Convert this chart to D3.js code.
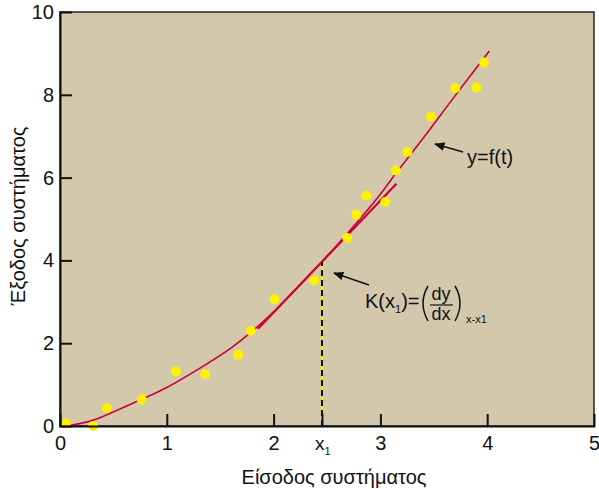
<!DOCTYPE html>
<html>
<head>
<meta charset="utf-8">
<script src="https://cdn.jsdelivr.net/npm/d3@7"></script>
<style>
  body { margin: 0; background: #fff; }
  text { font-family: "Liberation Sans", Arial, sans-serif; fill: #111; }
</style>
</head>
<body>
<div id="chart"></div>
<script>
// measured points (yellow)
const pointX = [0.056, 0.31, 0.44, 0.765, 1.086, 1.36, 1.67, 1.786, 2.01, 2.38, 2.69, 2.774, 2.868, 3.046, 3.143, 3.252, 3.474, 3.70, 3.90, 3.97];
const pointY = [0.06, 0.0, 0.43, 0.64, 1.32, 1.25, 1.72, 2.3, 3.06, 3.52, 4.54, 5.10, 5.57, 5.41, 6.17, 6.62, 7.47, 8.16, 8.18, 8.78];

// fitted curve y=f(t)
const curveX = [0.06, 0.3, 0.5, 0.77, 1.0, 1.3, 1.6, 1.8, 2.0, 2.2, 2.45, 2.7, 3.0, 3.15, 3.4, 3.7, 4.02];
const curveY = [0.0, 0.13, 0.34, 0.65, 0.93, 1.38, 1.88, 2.29, 2.76, 3.28, 3.96, 4.68, 5.6, 6.12, 6.95, 7.98, 9.06];

// tangent at x1
const x1 = 2.453;
const y1 = 3.96;
const tangentX = [1.854, 3.15];
const tangentY = [2.35, 5.85];

const xTicks = [0, 1, 2, x1, 3, 4, 5];
const yTicks = [0, 2, 4, 6, 8, 10];

const width = 599, height = 489;
const margin = {top: 12, right: 5, bottom: 63, left: 60};

const svg = d3.select("#chart").append("svg")
    .attr("width", width)
    .attr("height", height);

const x = d3.scaleLinear().domain([0, 5]).range([margin.left, width - margin.right]);
const y = d3.scaleLinear().domain([0, 10]).range([height - margin.bottom, margin.top]);

// plot background + frame
svg.append("rect")
    .attr("x", x(0)).attr("y", y(10))
    .attr("width", x(5) - x(0)).attr("height", y(0) - y(10))
    .attr("fill", "#d3c8ac")
    .attr("stroke", "#222")
    .attr("stroke-width", 1.5);

// curve
const line = d3.line().x(d => x(d[0])).y(d => y(d[1])).curve(d3.curveCatmullRom);
svg.append("path")
    .datum(curveX.map((v, i) => [v, curveY[i]]))
    .attr("d", line)
    .attr("fill", "none")
    .attr("stroke", "#cc0033")
    .attr("stroke-width", 1.6);

// tangent
svg.append("path")
    .datum(tangentX.map((v, i) => [v, tangentY[i]]))
    .attr("d", d3.line().x(d => x(d[0])).y(d => y(d[1])))
    .attr("stroke", "#cc0033")
    .attr("stroke-width", 2.2);

// dashed drop line at x1
svg.append("line")
    .attr("x1", x(x1)).attr("x2", x(x1))
    .attr("y1", y(0)).attr("y2", y(y1))
    .attr("stroke", "#ffee00").attr("stroke-width", 2);
svg.append("line")
    .attr("x1", x(x1)).attr("x2", x(x1))
    .attr("y1", y(0)).attr("y2", y(y1))
    .attr("stroke", "#111").attr("stroke-width", 2)
    .attr("stroke-dasharray", "6,4");

// points
svg.selectAll("circle.pt")
    .data(pointX.map((v, i) => [v, pointY[i]]))
    .join("circle")
    .attr("class", "pt")
    .attr("cx", d => x(d[0]))
    .attr("cy", d => y(d[1]))
    .attr("r", 5)
    .attr("fill", "#fff200");

// axes
const yAxis = svg.append("g")
    .attr("transform", `translate(${x(0)},0)`)
    .call(d3.axisLeft(y).tickValues(yTicks).tickSize(-12).tickPadding(20));
const xAxis = svg.append("g")
    .attr("transform", `translate(0,${y(0)})`)
    .call(d3.axisBottom(x).tickValues(xTicks).tickSize(-12).tickPadding(20)
        .tickFormat(d => d === x1 ? "" : d));

[xAxis, yAxis].forEach(g => {
    g.select(".domain").attr("stroke", "#111").attr("stroke-width", 2);
    g.selectAll(".tick line").attr("stroke", "#111").attr("stroke-width", 2);
    g.selectAll(".tick text").style("font-size", "20px").attr("fill", "#111");
});
yAxis.selectAll(".tick text").attr("x", -6);
xAxis.selectAll(".tick text").attr("y", 10);
xAxis.selectAll(".tick").filter(d => d === 0 || d === 5).select("line").remove();
yAxis.selectAll(".tick").filter(d => d === 0 || d === 10).select("line").remove();

// x1 tick label
const xl = svg.append("text")
    .attr("x", x(x1) - 7).attr("y", y(0) + 24)
    .style("font-size", "19px");
xl.append("tspan").text("x");
xl.append("tspan").attr("dy", 5).style("font-size", "11px").text("1");

// axis titles
svg.append("text")
    .attr("x", 334).attr("y", 484)
    .attr("text-anchor", "middle")
    .style("font-size", "20px")
    .text("Είσοδος συστήματος");
svg.append("text")
    .attr("transform", `translate(25,${(y(0) + y(10)) / 2 - 3}) rotate(-90)`)
    .attr("text-anchor", "middle")
    .style("font-size", "20px")
    .text("Έξοδος συστήματος");

// arrow marker
svg.append("defs").append("marker")
    .attr("id", "arr")
    .attr("viewBox", "0 0 10 10")
    .attr("refX", 9).attr("refY", 5)
    .attr("markerWidth", 7).attr("markerHeight", 7)
    .attr("orient", "auto")
    .append("path").attr("d", "M0,1 L10,5 L0,9 Z").attr("fill", "#111");

// y=f(t) annotation
svg.append("line")
    .attr("x1", 463).attr("y1", 152).attr("x2", 435).attr("y2", 144)
    .attr("stroke", "#111").attr("stroke-width", 1.5)
    .attr("marker-end", "url(#arr)");
svg.append("text")
    .attr("x", 467).attr("y", 164)
    .style("font-size", "20px")
    .text("y=f(t)");

// K(x1) annotation
svg.append("line")
    .attr("x1", 369).attr("y1", 285).attr("x2", 334).attr("y2", 273)
    .attr("stroke", "#111").attr("stroke-width", 1.5)
    .attr("marker-end", "url(#arr)");
const k = svg.append("text")
    .attr("x", 365).attr("y", 308)
    .style("font-size", "20px");
k.append("tspan").text("K(x");
k.append("tspan").attr("dy", 5).style("font-size", "11px").text("1");
k.append("tspan").attr("dy", -5).text(")=");
// thin tall parentheses
svg.append("path")
    .attr("d", "M428,286 Q418,303 428,321")
    .attr("fill", "none").attr("stroke", "#111").attr("stroke-width", 1.5);
svg.append("path")
    .attr("d", "M455,286 Q465,303 455,321")
    .attr("fill", "none").attr("stroke", "#111").attr("stroke-width", 1.5);
svg.append("text")
    .attr("x", 441).attr("y", 300)
    .attr("text-anchor", "middle")
    .style("font-size", "18px")
    .text("dy");
svg.append("line")
    .attr("x1", 430).attr("x2", 453).attr("y1", 305).attr("y2", 305)
    .attr("stroke", "#111").attr("stroke-width", 1.2);
svg.append("text")
    .attr("x", 441).attr("y", 320)
    .attr("text-anchor", "middle")
    .style("font-size", "18px")
    .text("dx");
svg.append("text")
    .attr("x", 466).attr("y", 323)
    .style("font-size", "11px")
    .text("x-x1");
</script>
</body>
</html>
